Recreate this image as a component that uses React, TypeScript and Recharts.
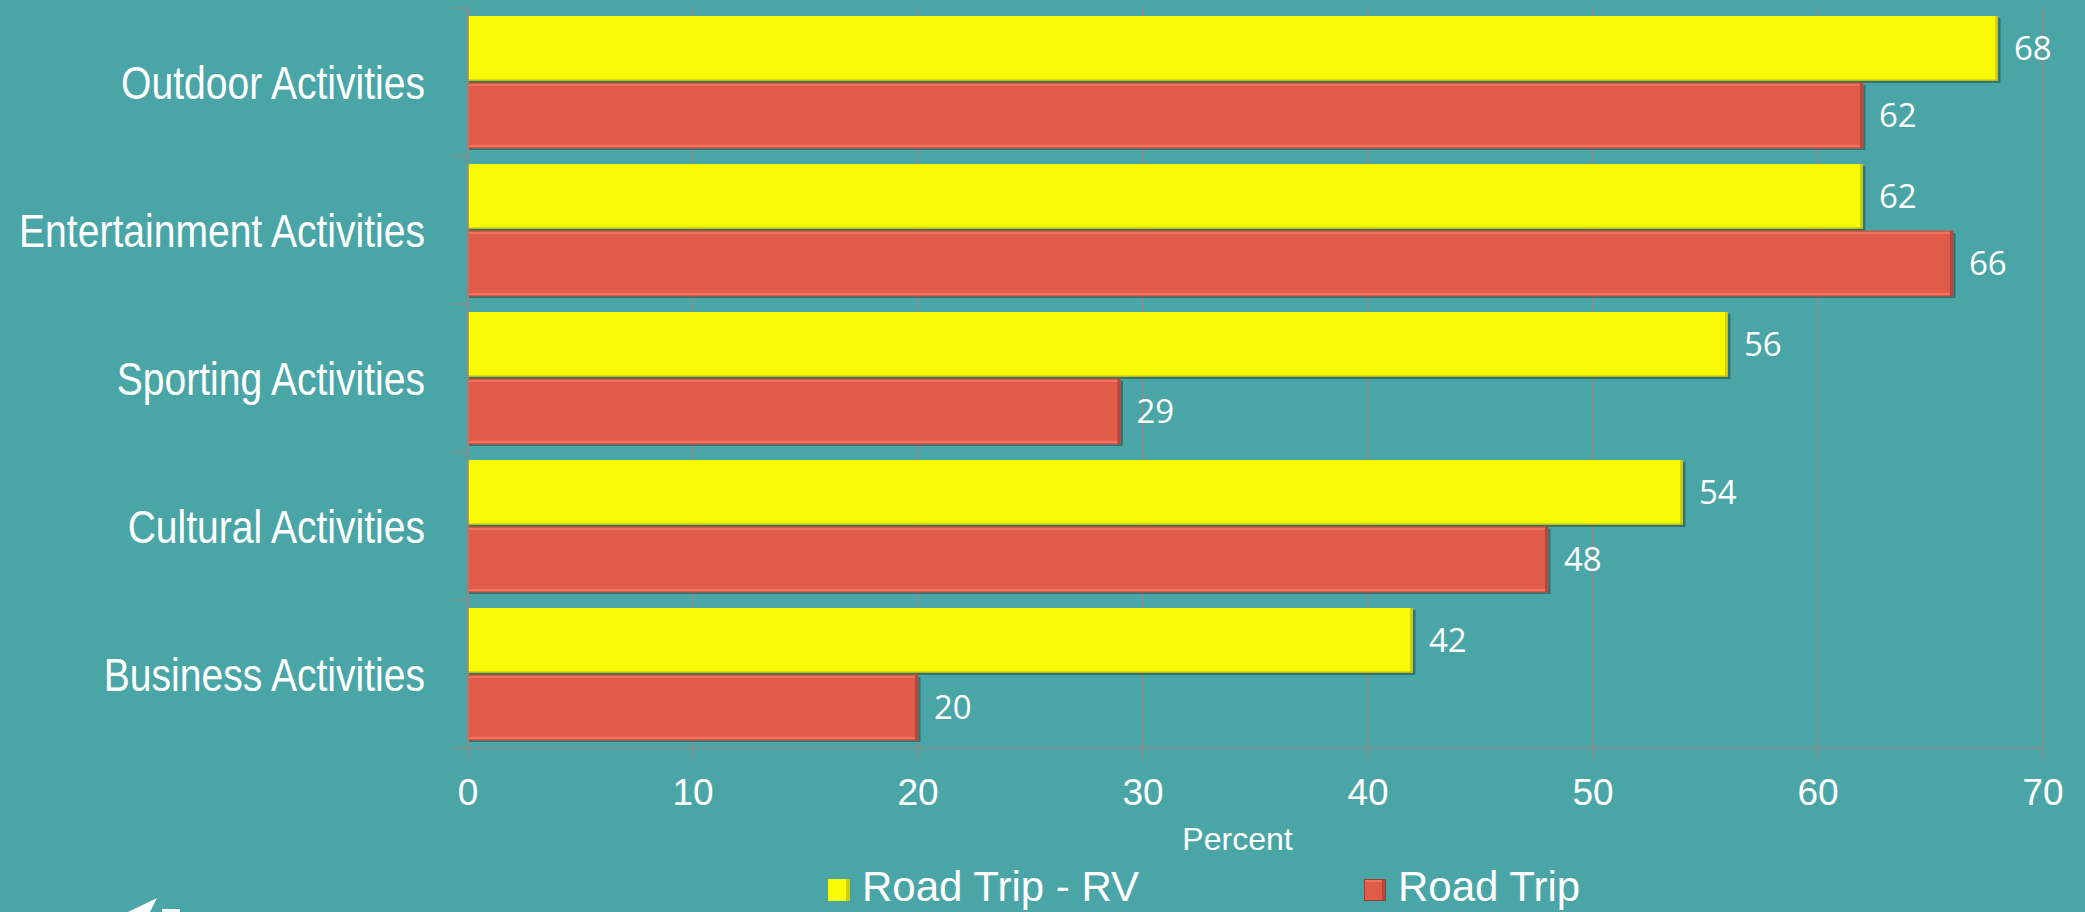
import React from 'react';
import { BarChart, Bar, XAxis, YAxis, CartesianGrid, Legend, LabelList } from 'recharts';

const categories = [
  'Outdoor Activities',
  'Entertainment Activities',
  'Sporting Activities',
  'Cultural Activities',
  'Business Activities',
];
const roadTripRV = [68, 62, 56, 54, 42];
const roadTrip = [62, 66, 29, 48, 20];
const xTicks = [0, 10, 20, 30, 40, 50, 60, 70];
const seriesNames = ['Road Trip - RV', 'Road Trip'];
const axisTitle = 'Percent';

const data = categories.map((c, i) => ({ category: c, rv: roadTripRV[i], rt: roadTrip[i] }));

const BG = '#4AA6A6';
const AXIS = '#8f8a8a';
const YELLOW = '#FAFA06';
const RED = '#E05C48';
const FONT = '"Liberation Sans", Arial, sans-serif';

const YTick = (props: any) => {
  const { x, y, payload, index } = props;
  const half = payload && payload.offset ? payload.offset : 74;
  const axisX = x + 43;
  return (
    <g>
      <line x1={axisX - 14} x2={axisX} y1={y - half} y2={y - half} stroke={AXIS} strokeWidth={1.5} />
      {index === categories.length - 1 && (
        <line x1={axisX - 14} x2={axisX} y1={y + half} y2={y + half} stroke={AXIS} strokeWidth={1.5} />
      )}
      <text
        transform={`translate(${x},${y + 16.5}) scale(0.84,1)`}
        textAnchor="end"
        fill="#ffffff"
        fontSize={46.5}
        fontFamily={FONT}
      >
        {payload.value}
      </text>
    </g>
  );
};

const BevelBar = (props: any) => {
  const { x, y, width, height, kind } = props;
  if (!width || width <= 0) return null;
  if (kind === 'rv') {
    return (
      <g>
        <rect x={x + 1} y={y + 2} width={width + 1.5} height={height} fill="rgba(20,55,55,0.45)" />
        <rect x={x} y={y} width={width} height={height} fill={YELLOW} />
        <rect x={x + width - 3} y={y} width={3} height={height} fill="#CFCF00" />
        <rect x={x} y={y + height - 1.5} width={width} height={1.5} fill="#BDBD00" />
      </g>
    );
  }
  return (
    <g>
      <rect x={x + 1} y={y + 2} width={width + 1.5} height={height} fill="rgba(20,55,55,0.45)" />
      <rect x={x} y={y} width={width} height={height} fill={RED} stroke="#C9503E" strokeWidth={1} />
      <rect x={x} y={y + 1} width={width} height={2} fill="#F27360" />
      <rect x={x} y={y + height - 3} width={width} height={2} fill="#F27360" />
      <rect x={x + width - 3} y={y} width={3} height={height} fill="#B8473A" />
    </g>
  );
};

const Swatch = ({ kind }: { kind: string }) => (
  <div
    style={{
      width: 22,
      height: 22,
      marginTop: 27,
      boxSizing: 'border-box',
      background: kind === 'rv' ? YELLOW : RED,
      borderRight: kind === 'rv' ? '4px solid #CFCF00' : '4px solid #B8473A',
      border: kind === 'rv' ? undefined : '1px solid #9a3f33',
      boxShadow: kind === 'rv' ? 'inset -4px 0 0 #CFCF00' : 'inset -3px 0 0 #B8473A, inset 0 2px 0 #F27360',
    }}
  />
);

const renderLegend = () => (
  <div style={{ display: 'flex', height: 60, paddingLeft: 828, boxSizing: 'border-box', width: 2085 }}>
    {seriesNames.map((name, i) => (
      <div key={name} style={{ display: 'flex', alignItems: 'flex-start', marginRight: i === 0 ? 225 : 0 }}>
        <Swatch kind={i === 0 ? 'rv' : 'rt'} />
        <span
          style={{
            marginLeft: 12,
            marginTop: 14,
            fontSize: 42,
            lineHeight: '42px',
            color: '#ffffff',
            fontFamily: FONT,
            whiteSpace: 'nowrap',
          }}
        >
          {name}
        </span>
      </div>
    ))}
  </div>
);

export default function App() {
  return (
    <div style={{ position: 'absolute', left: 0, top: 0, width: 2085, height: 912, background: BG, overflow: 'hidden' }}>
      <BarChart
        width={2085}
        height={912}
        data={data}
        layout="vertical"
        margin={{ top: 8, right: 42, bottom: 0, left: 0 }}
        barCategoryGap={8}
        barGap={2}
      >
        <CartesianGrid horizontal={false} vertical={true} stroke={AXIS} strokeWidth={1.5} />
        <XAxis
          type="number"
          domain={[0, 70]}
          ticks={xTicks}
          interval={0}
          height={104}
          tickSize={11}
          tickMargin={20}
          axisLine={{ stroke: AXIS, strokeWidth: 1.5 }}
          tickLine={{ stroke: AXIS, strokeWidth: 1.5 }}
          tick={{ fill: '#ffffff', fontSize: 37, fontFamily: FONT }}
          label={{ value: axisTitle, position: 'insideBottom', offset: 2, dx: -18, fill: '#ffffff', fontSize: 32, fontFamily: FONT }}
        />
        <YAxis
          type="category"
          dataKey="category"
          width={468}
          tickSize={14}
          tickMargin={29}
          tickLine={false}
          axisLine={{ stroke: AXIS, strokeWidth: 1.5 }}
          tick={<YTick />}
          interval={0}
        />
        <Legend verticalAlign="bottom" content={renderLegend} wrapperStyle={{ left: 0, bottom: 0, width: 2085, margin: 0, padding: 0 }} />
        <Bar dataKey="rv" name={seriesNames[0]} fill={YELLOW} isAnimationActive={false} shape={(p: any) => <BevelBar {...p} kind="rv" />}>
          <LabelList dataKey="rv" position="right" offset={16} fill="#ffffff" fontSize={33} fontFamily='"Open Sans", sans-serif' />
        </Bar>
        <Bar dataKey="rt" name={seriesNames[1]} fill={RED} isAnimationActive={false} shape={(p: any) => <BevelBar {...p} kind="rt" />}>
          <LabelList dataKey="rt" position="right" offset={16} fill="#ffffff" fontSize={33} fontFamily='"Open Sans", sans-serif' />
        </Bar>
      </BarChart>
      <svg width={2085} height={912} style={{ position: 'absolute', left: 0, top: 0, pointerEvents: 'none' }}>
        <polygon points="128,912 157,898 150,912" fill="#ffffff" />
        <rect x={162} y={909} width={18} height={3} fill="#ffffff" />
      </svg>
    </div>
  );
}
